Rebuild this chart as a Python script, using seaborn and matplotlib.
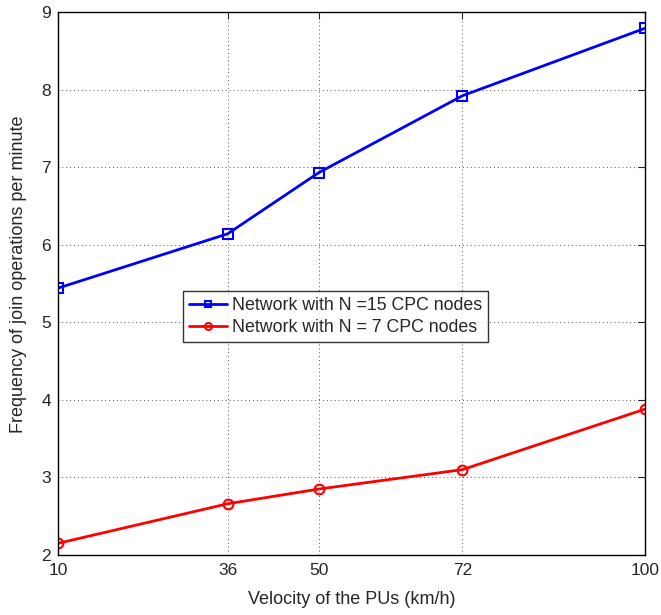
import pandas as pd
import matplotlib
matplotlib.use("Agg")
import matplotlib.pyplot as plt
import seaborn as sns

# data
velocity = [10, 36, 50, 72, 100]
freq_n15 = [5.44, 6.14, 6.93, 7.92, 8.79]
freq_n7 = [2.15, 2.66, 2.85, 3.10, 3.88]
labels = ["Network with N =15 CPC nodes", "Network with N = 7 CPC nodes"]
colors = ["#0000ff", "#ff0000"]

df = pd.DataFrame({
    "velocity": velocity * 2,
    "freq": freq_n15 + freq_n7,
    "series": [labels[0]] * 5 + [labels[1]] * 5,
})

sns.set_style("white")
plt.rcParams["font.family"] = ["Liberation Sans", "DejaVu Sans"]

fig = plt.figure(figsize=(6.61, 6.15), dpi=100)
ax = fig.add_axes([0.0877, 0.0976, 0.8881, 0.8829])

sns.lineplot(data=df, x="velocity", y="freq", hue="series", style="series",
             palette=colors, markers=["s", "o"], dashes=False,
             markersize=7, markerfacecolor="none", markeredgewidth=1.5,
             linewidth=2, ax=ax)

for line, col in zip(ax.lines, colors):
    line.set_markeredgecolor(col)
    line.set_markerfacecolor("none")

ax.set_xlim(10, 100)
ax.set_ylim(2, 9)
ax.set_xticks(velocity)
ax.set_yticks(range(2, 10))
ax.grid(True, linestyle=(0, (1, 3)), color="#555555", linewidth=0.7)
ax.tick_params(direction="in", top=True, right=True, labelsize=12.5, length=5)
ax.tick_params(axis="x", pad=6)
ax.tick_params(axis="y", pad=5)
for s in ax.spines.values():
    s.set_color("black")
    s.set_linewidth(1)

ax.set_xlabel("Velocity of the PUs (km/h)", fontsize=13, labelpad=9)
ax.set_ylabel("Frequency of join operations per minute", fontsize=13)
ax.yaxis.set_label_coords(-0.052, 0.517)

leg = ax.legend(loc="lower left", bbox_to_anchor=(0.213, 0.392), fontsize=12.8,
                frameon=True, fancybox=False, edgecolor="black",
                handlelength=2.1, borderpad=0.35, labelspacing=0.25, handletextpad=0.3,
                borderaxespad=0)
leg.get_frame().set_linewidth(1)
for h, col in zip(leg.legend_handles, colors):
    h.set_markerfacecolor("none")
    h.set_markeredgecolor(col)
    h.set_markersize(5)

fig.savefig("out.png", dpi=100)
